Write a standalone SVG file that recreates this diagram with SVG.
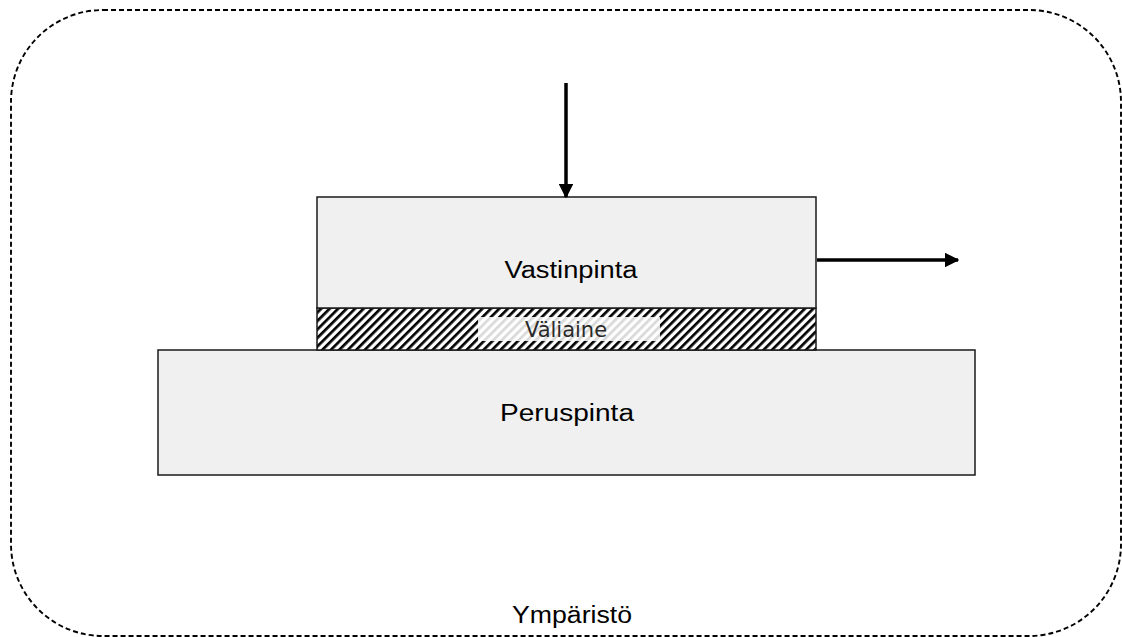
<svg xmlns="http://www.w3.org/2000/svg" width="1122" height="637" viewBox="0 0 1122 637">
  <style>
    .block { fill: #f0f0f0; stroke: #1a1a1a; stroke-width: 1.5; }
    .label { font-family: "Liberation Sans", Arial, sans-serif; font-size: 23px; fill: #000; text-anchor: middle; }
    .mid { font-family: "DejaVu Sans", "Open Sans", sans-serif; font-size: 21px; fill: #2a2a2a; text-anchor: middle; }
    .force { stroke: #000; stroke-width: 3.5; fill: none; }
  </style>
  <defs>
    <pattern id="hatch" patternUnits="userSpaceOnUse" width="6" height="6" patternTransform="rotate(45)">
      <rect width="6" height="6" fill="#ffffff"/>
      <line x1="0" y1="0" x2="0" y2="6" stroke="#000" stroke-width="5.4"/>
    </pattern>
    <marker id="arrow" viewBox="0 0 10 10" refX="9" refY="5" markerWidth="4.2" markerHeight="4.2" orient="auto" markerUnits="strokeWidth">
      <path d="M0,0 L10,5 L0,10 z" fill="#000"/>
    </marker>
  </defs>

  <!-- environment boundary -->
  <g id="ymparisto">
    <rect x="11" y="10" width="1110" height="626" rx="92" ry="92" fill="none" stroke="#000" stroke-width="1.9" stroke-dasharray="5,3"/>
    <text class="label" x="572" y="623" textLength="120" lengthAdjust="spacingAndGlyphs">Ympäristö</text>
  </g>

  <!-- base surface -->
  <g id="peruspinta">
    <rect class="block" x="158" y="350" width="817" height="125"/>
    <text class="label" x="567" y="421" textLength="134" lengthAdjust="spacingAndGlyphs">Peruspinta</text>
  </g>

  <!-- intermediate medium -->
  <g id="valiaine">
    <rect x="317" y="308" width="499" height="42" fill="url(#hatch)" stroke="#1a1a1a" stroke-width="1.5"/>
    <rect x="478" y="317" width="182" height="24" fill="#ffffff" fill-opacity="0.85"/>
    <text class="mid" x="566" y="337">Väliaine</text>
  </g>

  <!-- counter surface -->
  <g id="vastinpinta">
    <rect class="block" x="317" y="197" width="499" height="111"/>
    <text class="label" x="571" y="278" textLength="133" lengthAdjust="spacingAndGlyphs">Vastinpinta</text>
  </g>

  <!-- load and sliding motion -->
  <g id="connectors">
    <line class="force" x1="566" y1="83" x2="566" y2="197" marker-end="url(#arrow)"/>
    <line class="force" x1="817" y1="260" x2="958" y2="260" marker-end="url(#arrow)"/>
  </g>
</svg>
